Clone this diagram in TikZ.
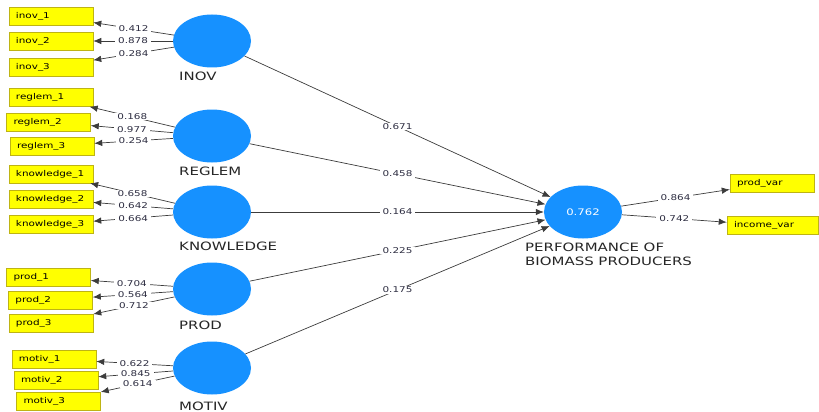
\documentclass[tikz,border=0pt]{standalone}
\usepackage{fontspec}
\setmainfont{DejaVu Sans}[FakeStretch=1.3]
\usetikzlibrary{arrows.meta,shapes.geometric}
\definecolor{lvblue}{RGB}{22,145,255}
\definecolor{indyellow}{RGB}{255,255,0}
\definecolor{indborder}{RGB}{190,180,20}
\definecolor{pathgray}{RGB}{60,60,60}
\definecolor{coeftext}{RGB}{45,45,65}
\begin{document}
\begin{tikzpicture}[x=1pt,y=-1pt]
                    \tikzset{lvcirc/.style={ellipse, fill=lvblue, minimum width=78, minimum height=53, inner sep=0pt}}
                    \tikzset{indbox/.style={draw=indborder, fill=indyellow, line width=0.5pt, text width=70, align=left, inner xsep=7, inner ysep=0pt, minimum height=18, font=\fontsize{8}{9}\selectfont}}
                    \tikzset{lvname/.style={anchor=west, inner sep=0pt, font=\fontsize{11.5}{14}\selectfont, text=black!85}}
                    \tikzset{coef/.style={fill=white, inner xsep=3pt, inner ysep=0.5pt, font=\fontsize{8}{9}\selectfont, text=coeftext}}
                    \tikzset{link/.style={draw=pathgray, line width=0.7pt, -{Latex[length=8pt,width=6.5pt]}}}
                    \useasboundingbox (0,0) rectangle (819,412);
                    % latent variables
                    \node[lvcirc] (inov) at (212,41) {};
                    \node[lvcirc] (reglem) at (212,136) {};
                    \node[lvcirc] (knowledge) at (212,212) {};
                    \node[lvcirc] (prod) at (212,289) {};
                    \node[lvcirc] (motiv) at (212,368) {};
                    \node[lvcirc, text=white, font=\fontsize{9}{11}\selectfont] (perf) at (583,212) {0.762};
                    \node[lvname] (inov-name) at (179,76) {INOV};
                    \node[lvname] (reglem-name) at (179,171) {REGLEM};
                    \node[lvname] (knowledge-name) at (179,246.5) {KNOWLEDGE};
                    \node[lvname] (prod-name) at (179,325) {PROD};
                    \node[lvname] (motiv-name) at (179,406) {MOTIV};
                    \node[lvname, anchor=north west, align=left] (perf-name) at (525,243) {PERFORMANCE OF\\BIOMASS PRODUCERS};
                    % indicators
                    \node[indbox] (inov1) at (51,16) {inov\_1};
                    \node[indbox] (inov2) at (51,41) {inov\_2};
                    \node[indbox] (inov3) at (51,67) {inov\_3};
                    \node[indbox] (reglem1) at (51,97.5) {reglem\_1};
                    \node[indbox] (reglem2) at (48.5,122) {reglem\_2};
                    \node[indbox] (reglem3) at (52,146) {reglem\_3};
                    \node[indbox] (knowledge1) at (51,174) {knowledge\_1};
                    \node[indbox] (knowledge2) at (51,199) {knowledge\_2};
                    \node[indbox] (knowledge3) at (51,224.5) {knowledge\_3};
                    \node[indbox] (prod1) at (48.5,277.5) {prod\_1};
                    \node[indbox] (prod2) at (50.5,300) {prod\_2};
                    \node[indbox] (prod3) at (51,323) {prod\_3};
                    \node[indbox] (motiv1) at (54,359) {motiv\_1};
                    \node[indbox] (motiv2) at (56,380) {motiv\_2};
                    \node[indbox] (motiv3) at (58.5,401) {motiv\_3};
                    \node[indbox] (prodvar) at (772,183) {prod\_var};
                    \node[indbox, text width=77] (incomevar) at (772.5,225.5) {income\_var};
                    % loadings
                    \draw[link] (inov) -- node[coef] {0.412} (inov1);
                    \draw[link] (inov) -- node[coef] {0.878} (inov2);
                    \draw[link] (inov) -- node[coef] {0.284} (inov3);
                    \draw[link] (reglem) -- node[coef] {0.168} (reglem1);
                    \draw[link] (reglem) -- node[coef] {0.977} (reglem2);
                    \draw[link] (reglem) -- node[coef] {0.254} (reglem3);
                    \draw[link] (knowledge) -- node[coef] {0.658} (knowledge1);
                    \draw[link] (knowledge) -- node[coef] {0.642} (knowledge2);
                    \draw[link] (knowledge) -- node[coef] {0.664} (knowledge3);
                    \draw[link] (prod) -- node[coef] {0.704} (prod1);
                    \draw[link] (prod) -- node[coef] {0.564} (prod2);
                    \draw[link] (prod) -- node[coef] {0.712} (prod3);
                    \draw[link] (motiv) -- node[coef] {0.622} (motiv1);
                    \draw[link] (motiv) -- node[coef] {0.845} (motiv2);
                    \draw[link] (motiv) -- node[coef] {0.614} (motiv3);
                    \draw[link] (perf) -- node[coef] {0.864} (prodvar);
                    \draw[link] (perf) -- node[coef] {0.742} (incomevar);
                    % path coefficients
                    \draw[link] (inov) -- node[coef] {0.671} (perf);
                    \draw[link] (reglem) -- node[coef] {0.458} (perf);
                    \draw[link] (knowledge) -- node[coef] {0.164} (perf);
                    \draw[link] (prod) -- node[coef] {0.225} (perf);
                    \draw[link] (motiv) -- node[coef] {0.175} (perf);
\end{tikzpicture}
\end{document}
